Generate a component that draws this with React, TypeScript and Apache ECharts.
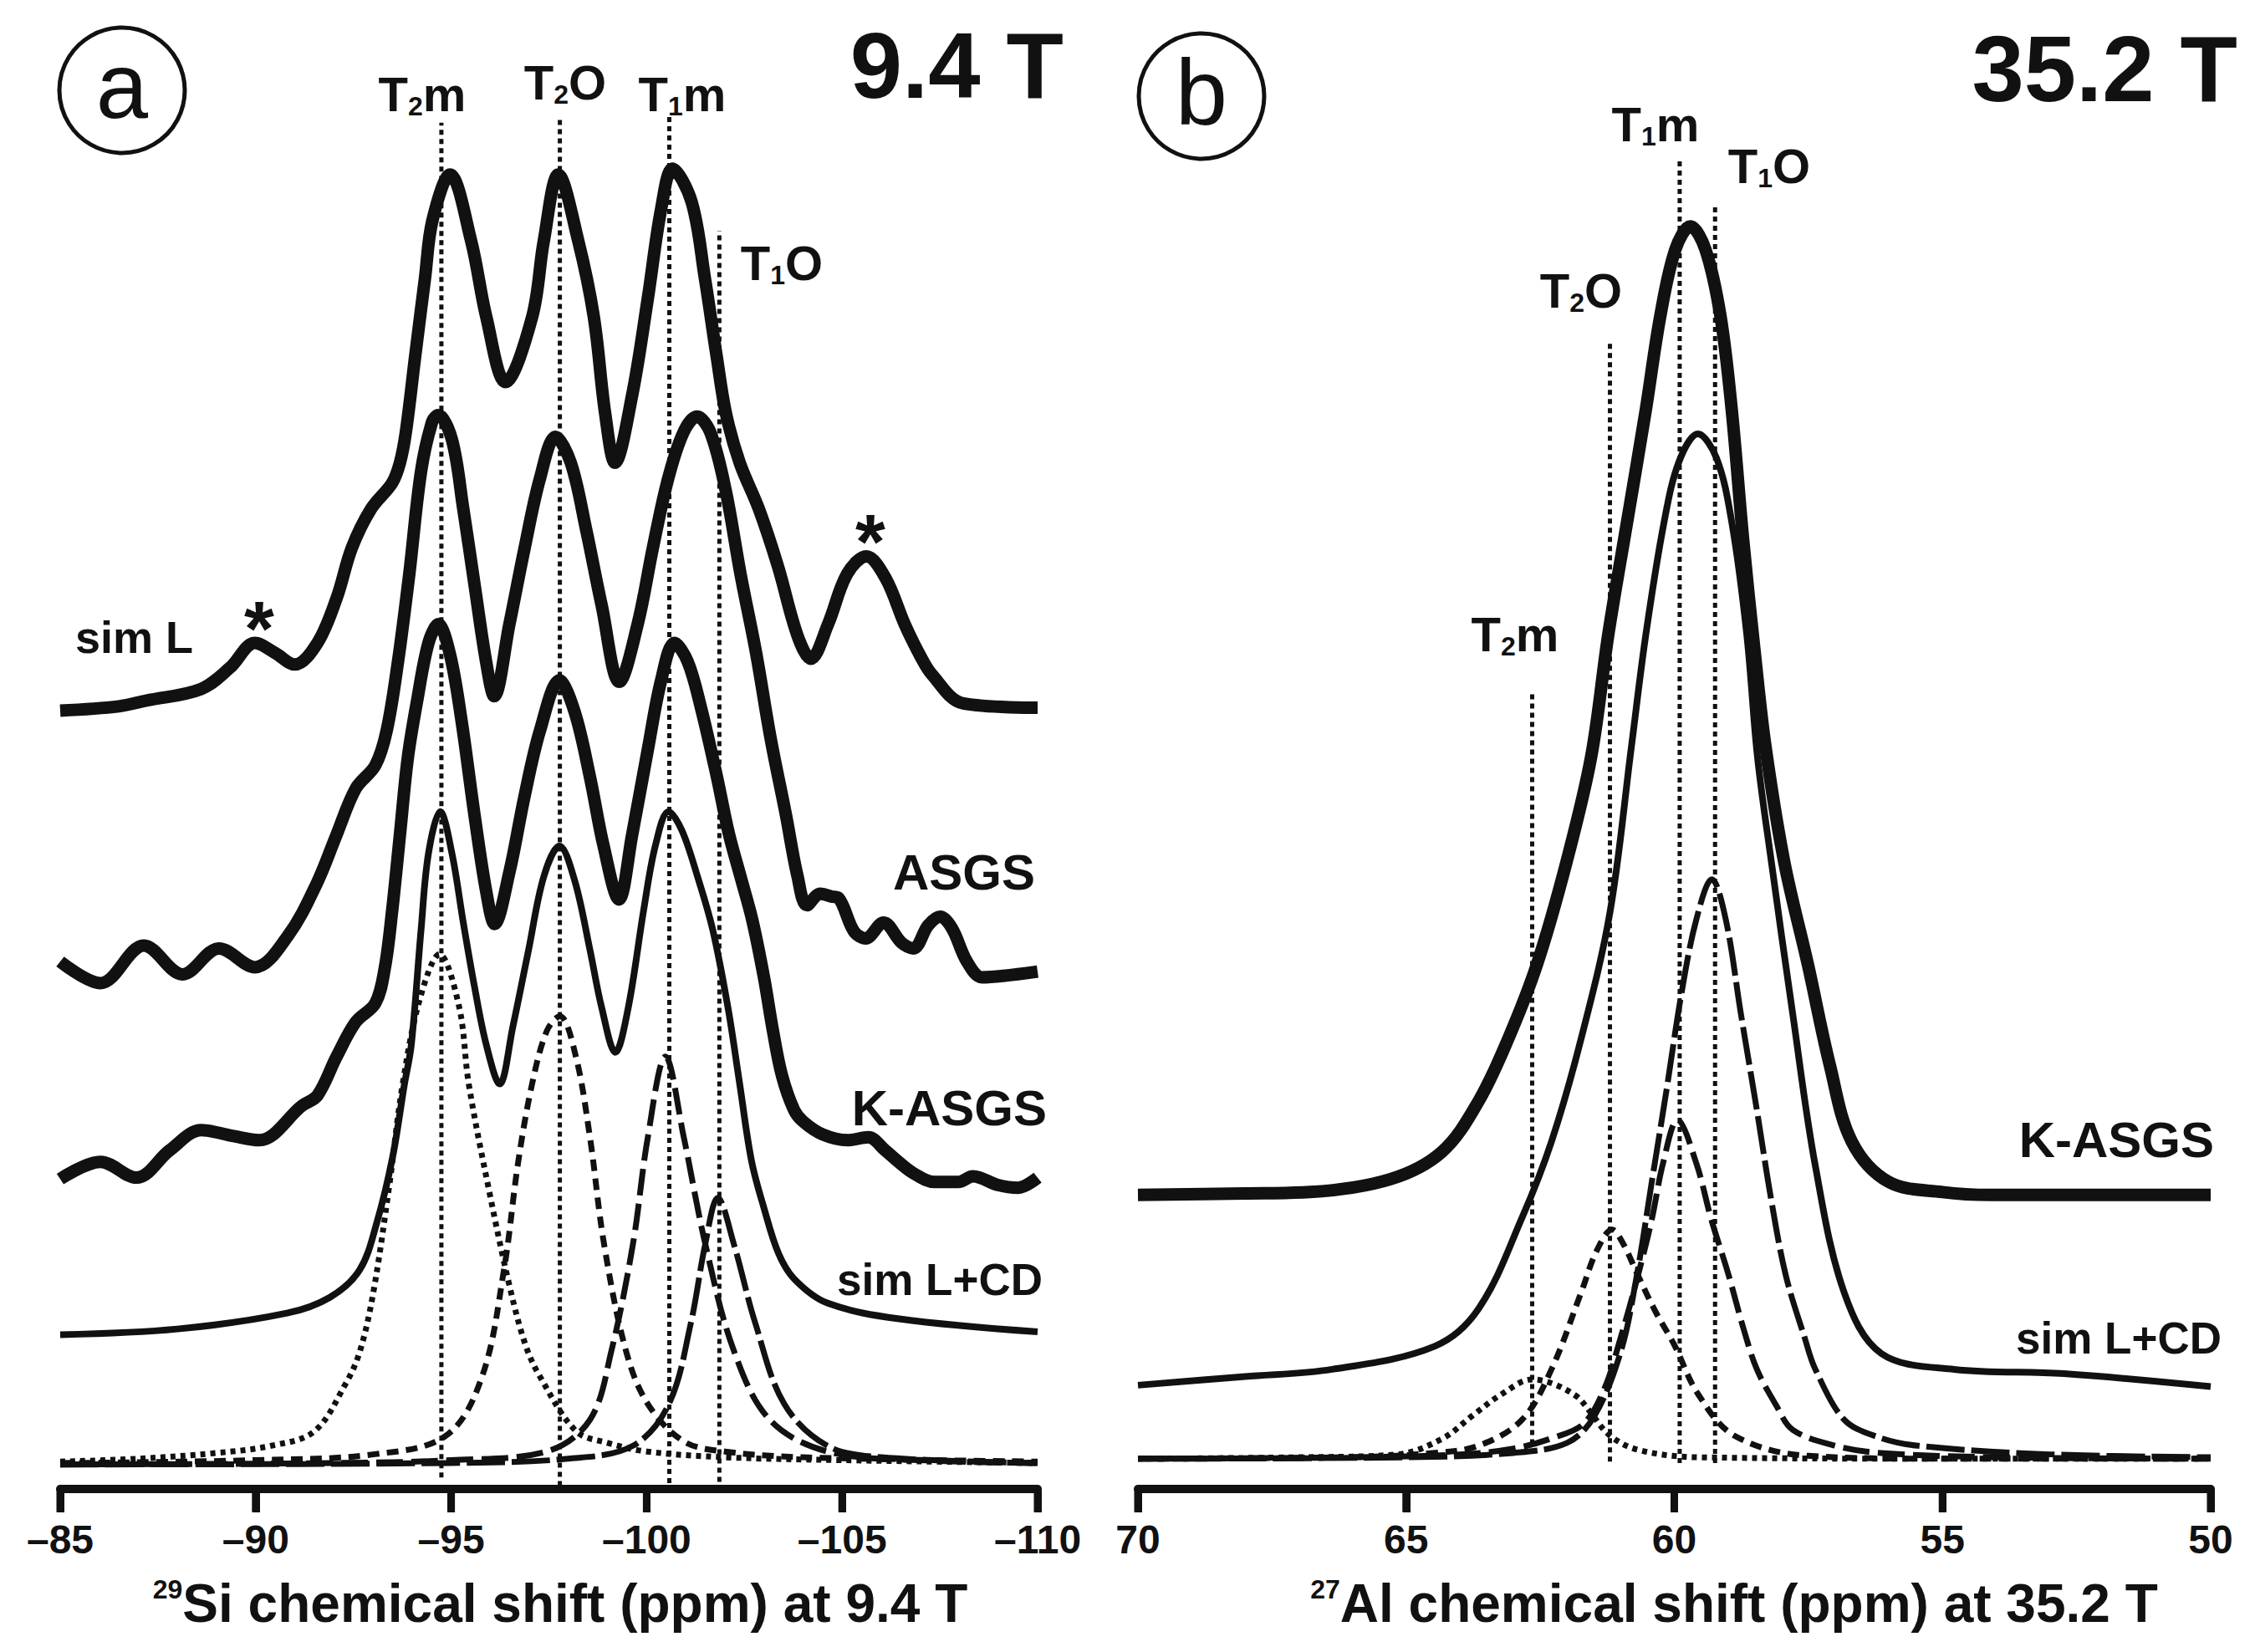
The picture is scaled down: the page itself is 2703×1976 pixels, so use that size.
import React, { useEffect, useRef } from 'react';
import * as echarts from 'echarts';

const FF = '"Liberation Sans", Arial, Helvetica, sans-serif';
const INK = '#111111';

// ---------- Panel a : 29Si, 9.4 T  ([ppm, stacked intensity, a.u.]) ----------
const siSimL: number[][] = [
  [-85.0, 540], [-86.5, 543], [-87.2, 547], [-88.6, 555], [-89.35, 570], [-89.98, 587], [-90.5, 580], [-91.0, 572],
  [-91.58, 587], [-92.07, 618], [-92.46, 653], [-92.95, 680], [-93.49, 698], [-93.69, 712], [-93.84, 733], [-94.08, 786],
  [-94.33, 840], [-94.52, 880], [-94.97, 912], [-95.51, 866], [-95.9, 813], [-96.39, 768], [-97.07, 813], [-97.37, 866],
  [-97.74, 912], [-98.25, 866], [-98.65, 813], [-98.94, 746], [-99.19, 712], [-99.63, 759], [-100.03, 826], [-100.37, 888],
  [-100.66, 916], [-101.15, 893], [-101.49, 840], [-101.79, 786], [-102.03, 746], [-102.38, 712], [-102.87, 680],
  [-103.36, 640], [-103.86, 592], [-104.2, 576], [-104.64, 600], [-105.13, 635], [-105.62, 647], [-106.11, 632],
  [-106.6, 600], [-106.98, 579], [-107.3, 565], [-108.1, 545], [-110.0, 542],
];
const siASGS: number[][] = [
  [-85.0, 366], [-86.03, 351], [-87.14, 377], [-88.13, 357], [-89.06, 375], [-89.98, 362], [-90.83, 384], [-91.56, 420],
  [-92.07, 454], [-92.56, 486], [-93.06, 502], [-93.35, 526], [-93.64, 574], [-93.93, 635], [-94.23, 706], [-94.52, 741],
  [-94.67, 745], [-95.02, 728], [-95.31, 680], [-95.6, 627], [-95.9, 573], [-96.1, 550], [-96.49, 600], [-96.88, 653],
  [-97.27, 701], [-97.67, 730], [-98.06, 712], [-98.45, 666], [-98.85, 613], [-99.3, 560], [-99.77, 600], [-100.16, 653],
  [-100.55, 701], [-100.94, 733], [-101.29, 744], [-101.63, 733], [-102.02, 693], [-102.4, 635], [-102.8, 580],
  [-103.17, 521], [-103.56, 468], [-103.86, 425], [-104.1, 405], [-104.44, 413], [-104.73, 411], [-104.91, 410],
  [-105.3, 387], [-105.6, 382], [-106.06, 393], [-106.52, 379], [-106.82, 375], [-107.2, 391], [-107.51, 397],
  [-107.81, 389], [-108.19, 366], [-108.58, 355], [-109.12, 356], [-110.0, 359],
];
const siKASGS: number[][] = [
  [-85.0, 215], [-86.03, 227], [-86.95, 216], [-87.8, 235], [-88.61, 249], [-89.4, 245], [-90.09, 242], [-91.19, 266],
  [-91.58, 273], [-92.07, 300], [-92.56, 324], [-93.06, 337], [-93.3, 361], [-93.49, 401], [-93.69, 454], [-93.89, 507],
  [-94.13, 547], [-94.42, 587], [-94.67, 600], [-94.97, 579], [-95.26, 534], [-95.6, 467], [-95.9, 414], [-96.11, 392],
  [-96.49, 428], [-96.88, 481], [-97.27, 526], [-97.77, 561], [-98.16, 539], [-98.55, 494], [-98.9, 446], [-99.29, 409],
  [-99.63, 454], [-100.03, 513], [-100.37, 561], [-100.71, 587], [-101.05, 574], [-101.39, 542], [-101.79, 495],
  [-102.1, 455], [-102.4, 425], [-102.7, 395], [-103.0, 355], [-103.23, 318], [-103.46, 287], [-103.77, 263],
  [-104.0, 255], [-104.5, 246], [-105.14, 242], [-105.67, 244], [-106.1, 235], [-106.44, 227], [-106.83, 219],
  [-107.36, 213], [-107.97, 213], [-108.35, 217], [-108.97, 211], [-109.5, 209], [-110.0, 216],
];
const siSimLCD: number[][] = [
  [-85.0, 107], [-88.0, 111], [-90.8, 122], [-91.9, 133], [-92.66, 152], [-93.1, 185], [-93.5, 230], [-93.8, 280],
  [-93.98, 308], [-94.23, 388], [-94.42, 441], [-94.72, 470], [-95.02, 441], [-95.31, 393], [-95.6, 348], [-95.9, 308],
  [-96.24, 281], [-96.58, 321], [-96.98, 374], [-97.37, 425], [-97.77, 446], [-98.16, 422], [-98.55, 374], [-98.85, 334],
  [-99.2, 303], [-99.53, 334], [-99.92, 401], [-100.22, 446], [-100.56, 470], [-100.9, 457], [-101.3, 425], [-101.69, 388],
  [-102.08, 334], [-102.38, 281], [-102.68, 228], [-103.0, 195], [-103.38, 163], [-103.8, 145], [-104.62, 129],
  [-106.46, 118], [-110.0, 109],
];
const siCompT2m: number[][] = [
  [-85.0, 19], [-87.0, 21], [-89.0, 25], [-90.4, 30], [-91.5, 40], [-92.3, 73], [-92.66, 95], [-93.0, 135], [-93.4, 207],
  [-93.76, 281], [-94.2, 340], [-94.7, 371], [-95.2, 335], [-95.45, 281], [-95.97, 207], [-96.5, 140], [-96.9, 100],
  [-97.27, 78], [-98.2, 40], [-99.0, 32], [-100.0, 26], [-102.0, 22], [-105.0, 20], [-110.0, 18],
];
const siCompT2O: number[][] = [
  [-85.0, 18], [-90.0, 20], [-93.0, 24], [-94.87, 37], [-95.79, 78], [-96.35, 152], [-96.71, 226], [-97.07, 281],
  [-97.45, 318], [-97.78, 328], [-98.19, 300], [-98.55, 244], [-98.91, 170], [-99.47, 96], [-100.03, 59], [-100.95, 33],
  [-102.0, 26], [-104.0, 22], [-110.0, 19],
];
const siCompT1m: number[][] = [
  [-85.0, 17], [-92.0, 18], [-95.0, 20], [-97.44, 26], [-98.55, 48], [-99.1, 96], [-99.65, 170], [-100.03, 244],
  [-100.48, 300], [-100.95, 244], [-101.5, 170], [-102.23, 96], [-103.15, 48], [-104.62, 26], [-107.0, 20], [-110.0, 18],
];
const siCompT1O: number[][] = [
  [-85.0, 17], [-95.0, 18], [-98.0, 21], [-99.65, 30], [-100.57, 59], [-101.13, 115], [-101.5, 170], [-101.82, 202],
  [-102.23, 170], [-102.78, 115], [-103.52, 59], [-104.62, 30], [-106.0, 22], [-110.0, 18],
];
const siSiteNames = ['T2m', 'T2O', 'T1m', 'T1O'];
const siSitePpm = [-94.75, -97.78, -100.58, -101.86];
const siSiteTop = [948, 951, 953, 873];
const siSiteBottom = [8, 2, 4, 5];
const siTicks = [-85, -90, -95, -100, -105, -110];

// ---------- Panel b : 27Al, 35.2 T ----------
const alKASGS: number[][] = [
  [70, 204], [68, 205], [66.79, 206], [65.29, 215], [64.33, 234], [63.65, 269], [63.1, 312], [62.56, 364], [62.01, 435],
  [61.55, 508], [61.23, 593], [60.88, 671], [60.53, 749], [60.26, 814], [59.98, 860], [59.7, 876], [59.42, 860],
  [59.14, 814], [58.93, 749], [58.72, 660], [58.5, 580], [58.3, 515], [57.95, 435], [57.51, 364], [57.1, 294],
  [56.69, 241], [56.0, 213], [55.0, 206], [54.1, 204], [50, 204],
];
const alSimLCD: number[][] = [
  [70, 72], [68, 78], [66.38, 83], [64.47, 99], [63.65, 125], [62.83, 189], [62.29, 241], [61.74, 312], [61.2, 400],
  [60.8, 515], [60.53, 593], [60.19, 671], [59.91, 713], [59.56, 732], [59.21, 715], [58.93, 671], [58.65, 593],
  [58.45, 508], [58.19, 435], [57.79, 329], [57.37, 224], [56.83, 136], [56.14, 94], [54.78, 83], [52.74, 80], [50, 71],
];
const alCompT2m: number[][] = [
  [70, 21], [67, 22], [65.16, 24], [64.32, 35], [63.76, 51], [63.21, 66], [62.65, 76], [62.26, 73], [61.81, 64],
  [61.6, 55], [61.2, 37], [60.66, 27], [59.56, 22], [55, 21], [50, 21],
];
const alCompT2O: number[][] = [
  [70, 21], [66, 22], [64.5, 25], [63.65, 30], [62.84, 48], [62.29, 83], [61.74, 136], [61.45, 165], [61.16, 180],
  [60.95, 170], [60.7, 150], [60.35, 123], [60.0, 100], [59.56, 66], [58.88, 37], [57.51, 23], [55, 21], [50, 21],
];
const alCompT1m: number[][] = [
  [70, 21], [66, 22], [64, 24], [63, 28], [62.3, 35], [61.7, 45], [61.3, 70], [61.0, 105], [60.7, 145], [60.42, 187],
  [60.21, 226], [59.94, 256], [59.59, 226], [59.31, 187], [59.0, 150], [58.7, 110], [58.46, 83], [58.1, 58],
  [57.79, 41], [57.0, 30], [56.15, 25], [54, 22], [50, 21],
];
const alCompT1O: number[][] = [
  [70, 21], [65, 22], [63, 25], [62, 32], [61.5, 50], [61.0, 95], [60.7, 148], [60.42, 213], [60.14, 278], [59.87, 343],
  [59.59, 395], [59.3, 423], [59.04, 395], [58.76, 330], [58.47, 265], [58.19, 200], [57.92, 148], [57.57, 105],
  [57.37, 83], [56.83, 48], [56.2, 36], [55.46, 30], [53, 24], [50, 22],
];
const alSiteNames = ['T2m', 'T2O', 'T1m', 'T1O'];
const alSitePpm = [62.65, 61.2, 59.9, 59.24];
const alSiteTop = [552, 797, 922, 890];
const alSiteBottom = [31, 19, 18, 18];
const alTicks = [70, 65, 60, 55, 50];

const THICK = 15;
const THIN = 8;
const COMP = 7;

function curve(data: number[][], idx: number, width: number, type: any, z = 3) {
  return {
    type: 'line',
    xAxisIndex: idx,
    yAxisIndex: idx,
    data,
    smooth: 0.35,
    symbol: 'none',
    silent: true,
    z,
    lineStyle: { color: INK, width, type, cap: 'butt', join: 'round' },
  };
}

function siteLines(ppm: number[], top: number[], bottom: number[], idx: number) {
  return ppm.map((p, i) => ({
    type: 'line',
    xAxisIndex: idx,
    yAxisIndex: idx,
    data: [[p, bottom[i]], [p, top[i]]],
    symbol: 'none',
    silent: true,
    z: 2,
    lineStyle: { color: INK, width: 5, type: [6, 5], cap: 'butt' },
  }));
}

// tick marks below the axis line, drawn through the axes' scales (y in axis units, below 0)
function tickSeries(ticks: number[], idx: number) {
  return ticks.map((v) => ({
    type: 'line',
    xAxisIndex: idx,
    yAxisIndex: idx,
    data: [[v, 0], [v, -16]],
    symbol: 'none',
    silent: true,
    clip: false,
    z: 10,
    lineStyle: { color: INK, width: 9, type: 'solid', cap: 'butt' },
  }));
}

const tickFmt = (v: number) => (v < 0 ? '\u2013' + String(-v) : String(v));

function xAxisCfg(idx: number, min: number, max: number, name: string, padLeft: number) {
  return {
    type: 'value',
    gridIndex: idx,
    min,
    max,
    interval: 5,
    inverse: true,
    axisLine: { show: true, onZero: false, lineStyle: { color: INK, width: 10 } },
    axisTick: { show: true, length: 28, lineStyle: { color: INK, width: 9 } },
    axisLabel: { fontSize: 48, fontWeight: 'bold', color: INK, fontFamily: FF, margin: 36, formatter: tickFmt },
    splitLine: { show: false },
    name,
    nameLocation: 'middle',
    nameGap: 104,
    nameTextStyle: {
      fontSize: 64,
      fontWeight: 'bold',
      color: INK,
      fontFamily: FF,
      padding: [0, 0, 0, padLeft],
      rich: {
        sup: { fontSize: 32, fontWeight: 'bold', color: INK, fontFamily: FF, padding: [0, 0, 34, 0] },
        t: { fontSize: 64, fontWeight: 'bold', color: INK, fontFamily: FF },
      },
    },
  };
}

function yAxisCfg(idx: number) {
  return { type: 'value', gridIndex: idx, min: 0, max: 1000, show: false };
}

function siteLabel(main: string, sub: string, tail: string, x: number, y: number) {
  return {
    type: 'text',
    x,
    y,
    z: 10,
    style: {
      text: `{m|${main}}{s|${sub}}{m|${tail}}`,
      align: 'center',
      verticalAlign: 'middle',
      textAlign: 'center',
      textVerticalAlign: 'middle',
      rich: {
        m: { fontSize: 58, fontWeight: 'bold', fontFamily: FF, fill: INK, color: INK },
        s: { fontSize: 32, fontWeight: 'bold', fontFamily: FF, fill: INK, color: INK, padding: [30, 0, 0, 0] },
      },
    },
  };
}

function plainText(text: string, x: number, y: number, size: number, align: string, weight = 'bold') {
  return {
    type: 'text',
    x,
    y,
    z: 10,
    style: {
      text,
      fontSize: size,
      fontWeight: weight,
      fontFamily: FF,
      fill: INK,
      align,
      verticalAlign: 'middle',
      textAlign: align,
      textVerticalAlign: 'middle',
    },
  };
}

export default function App() {
  const ref = useRef<HTMLDivElement>(null);
  useEffect(() => {
    if (!ref.current) return;
    const chart = echarts.init(ref.current, null, { renderer: 'svg', width: 2703, height: 1976 });
    const split = (n: string) => [n.slice(0, 1), n.slice(1, 2), n.slice(2)];
    const siLabelPos = [[505, 112], [676, 98], [816, 112], [935, 314]];
    const alLabelPos = [[1812, 758], [1891, 347], [1980, 148], [2116, 198]];
    const graphics: any[] = [
      { type: 'circle', z: 10, shape: { cx: 146, cy: 108, r: 75 }, style: { fill: 'none', stroke: INK, lineWidth: 5 } },
      plainText('a', 146, 102, 112, 'center', 'normal'),
      { type: 'circle', z: 10, shape: { cx: 1437, cy: 115, r: 75 }, style: { fill: 'none', stroke: INK, lineWidth: 5 } },
      plainText('b', 1437, 110, 112, 'center', 'normal'),
      plainText('9.4 T', 1272, 78, 112, 'right'),
      plainText('35.2 T', 2676, 82, 112, 'right'),
      plainText('sim L', 90, 762, 54, 'left'),
      plainText('*', 310, 752, 92, 'center'),
      plainText('*', 1041, 648, 92, 'center'),
      plainText('ASGS', 1238, 1043, 60, 'right'),
      plainText('K-ASGS', 1252, 1325, 60, 'right'),
      plainText('sim L+CD', 1247, 1530, 53, 'right'),
      plainText('K-ASGS', 2648, 1363, 60, 'right'),
      plainText('sim L+CD', 2657, 1600, 53, 'right'),
    ];
    siSiteNames.forEach((n, i) => {
      const [a, b, c] = split(n);
      graphics.push(siteLabel(a, b, c, siLabelPos[i][0], siLabelPos[i][1]));
    });
    alSiteNames.forEach((n, i) => {
      const [a, b, c] = split(n);
      graphics.push(siteLabel(a, b, c, alLabelPos[i][0], alLabelPos[i][1]));
    });

    const option: any = {
      animation: false,
      textStyle: { fontFamily: FF },
      grid: [
        { left: 72, right: 1462, top: 57, bottom: 195 },
        { left: 1361, right: 59, top: 57, bottom: 195 },
      ],
      xAxis: [
        xAxisCfg(0, siTicks[siTicks.length - 1], siTicks[0], '{sup|29}{t|Si chemical shift (ppm) at 9.4 T}', 27),
        xAxisCfg(1, alTicks[alTicks.length - 1], alTicks[0], '{sup|27}{t|Al chemical shift (ppm) at 35.2 T}', 143),
      ],
      yAxis: [yAxisCfg(0), yAxisCfg(1)],
      graphic: { elements: graphics },
      series: [
        ...siteLines(siSitePpm, siSiteTop, siSiteBottom, 0),
        ...siteLines(alSitePpm, alSiteTop, alSiteBottom, 1),
        curve(siCompT2m, 0, COMP, [6, 6]),
        curve(siCompT2O, 0, COMP, [14, 9]),
        curve(siCompT1m, 0, COMP, [32, 10]),
        curve(siCompT1O, 0, COMP, [46, 8]),
        curve(siSimLCD, 0, THIN, 'solid'),
        curve(siKASGS, 0, THICK, 'solid'),
        curve(siASGS, 0, THICK, 'solid'),
        curve(siSimL, 0, THICK, 'solid'),
        curve(alCompT2m, 1, COMP, [6, 6]),
        curve(alCompT2O, 1, COMP, [14, 9]),
        curve(alCompT1m, 1, COMP, [32, 10]),
        curve(alCompT1O, 1, COMP, [46, 8]),
        curve(alSimLCD, 1, THIN, 'solid'),
        curve(alKASGS, 1, THICK, 'solid'),
        ...tickSeries(siTicks, 0),
        ...tickSeries(alTicks, 1),
      ],
    };
    chart.setOption(option);
    return () => chart.dispose();
  }, []);
  return (
    <div
      ref={ref}
      style={{ position: 'absolute', left: 0, top: 0, width: '2703px', height: '1976px', background: '#fff' }}
    />
  );
}
